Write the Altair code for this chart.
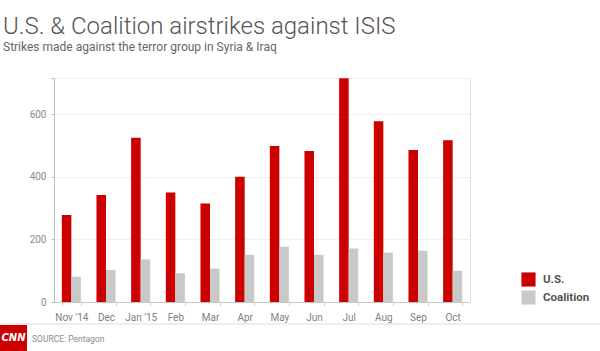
import altair as alt
import pandas as pd

months = ["Nov '14", "Dec", "Jan '15", "Feb", "Mar", "Apr", "May", "Jun", "Jul", "Aug", "Sep", "Oct"]
us = [278, 342, 525, 350, 315, 400, 499, 483, 715, 578, 486, 517]
coalition = [81, 102, 136, 92, 107, 151, 177, 151, 171, 158, 164, 100]
series = ["U.S.", "Coalition"]
colors = ["#cc0000", "#c9c9c9"]
y_ticks = [0, 200, 400, 600, 716]

rows = []
for m, u, c in zip(months, us, coalition):
    rows.append({"month": m, "series": "U.S.", "value": u})
    rows.append({"month": m, "series": "Coalition", "value": c})
df = pd.DataFrame(rows)

FONT = "Roboto"

bars = alt.Chart(df).mark_bar().encode(
    x=alt.X("month:N", sort=months, title=None,
            scale=alt.Scale(paddingInner=0.45, paddingOuter=0.225),
            axis=alt.Axis(labelAngle=0, domainColor="#c8c8c8", tickColor="#d6d6d6",
                          tickSize=4, tickBand="extent", labelPadding=6,
                          labelFont=FONT, labelFontSize=10, labelColor="#808080")),
    xOffset=alt.XOffset("series:N", sort=series, scale=alt.Scale(domain=series, paddingInner=0, paddingOuter=0)),
    y=alt.Y("value:Q", title=None,
            scale=alt.Scale(domain=[0, 716], nice=False),
            axis=alt.Axis(values=y_ticks, labelExpr="datum.value > 700 ? '' : datum.label",
                          domainColor="#bdbdbd", tickColor="#bdbdbd", tickSize=3,
                          labelPadding=5, gridColor="#f0f0f0",
                          labelFont=FONT, labelFontSize=10, labelColor="#8a8a8a")),
    color=alt.Color("series:N", sort=series,
                    scale=alt.Scale(domain=series, range=colors),
                    legend=alt.Legend(title=None, orient="none", legendX=467, legendY=194,
                                      symbolType="square", symbolSize=200, symbolStrokeWidth=0,
                                      symbolOpacity=1, labelFont=FONT, labelFontSize=11.5,
                                      labelFontWeight="bold", labelColor="#555555",
                                      rowPadding=3, labelOffset=7)),
)

one = pd.DataFrame({"k": [0]})

footer_line = alt.Chart(one).mark_rule(color="#dddddd", strokeWidth=1).encode(
    x=alt.value(-54), x2=alt.value(546), y=alt.value(246))
logo = alt.Chart(one).mark_rect(color="#cc0000").encode(
    x=alt.value(-54), x2=alt.value(-27), y=alt.value(247), y2=alt.value(273))
logo_text = alt.Chart(one).mark_text(text="CNN", color="white", font="DejaVu Sans",
                                     fontSize=10, fontWeight="bold", fontStyle="italic").encode(
    x=alt.value(-40.5), y=alt.value(260))
source = alt.Chart(one).mark_text(text="SOURCE: Pentagon", color="#8c8c8c", font=FONT,
                                  fontSize=8.5, align="left").encode(
    x=alt.value(-22), y=alt.value(261))

chart = alt.layer(bars, footer_line, logo, logo_text, source).properties(
    width=416, height=224,
    autosize=alt.AutoSizeParams(type="none"),
    padding={"left": 54, "top": 78, "right": 130, "bottom": 49},
    title=alt.TitleParams(
        text="U.S. & Coalition airstrikes against ISIS",
        subtitle="Strikes made against the terror group in Syria & Iraq",
        anchor="start", frame="group", dx=-51, offset=25,
        font=FONT, fontSize=24, fontWeight=300, color="#555555",
        subtitleFont=FONT, subtitleFontSize=12, subtitleColor="#666666",
        subtitlePadding=3),
).configure_view(stroke=None).configure(background="white")

chart.save("out.html", embed_options={"renderer": "svg", "actions": False})
